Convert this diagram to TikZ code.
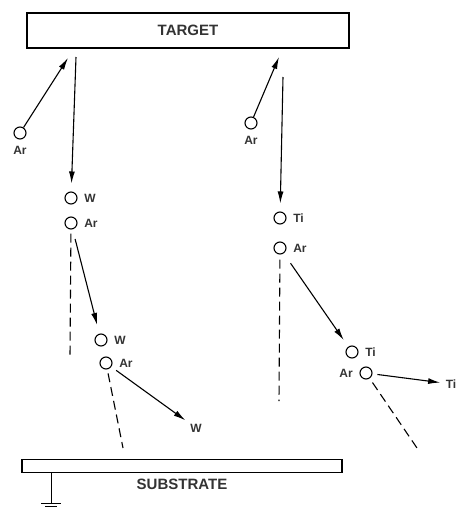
\documentclass[tikz,border=0pt]{standalone}
\usepackage{fontspec}
\setmainfont{Liberation Sans}
\usetikzlibrary{arrows.meta}

\begin{document}
\begin{tikzpicture}[
    x=1pt, y=-1pt,
    label distance=5pt,
    atom/.style={
        draw,
        circle,
        minimum size=12pt,
        inner sep=0pt,
        line width=1.1pt
    },
    tag/.style={
        font=\fontsize{12}{13}\selectfont\bfseries,
        text=black!80,
        inner sep=1.5pt
    },
    plate/.style={
        draw,
        line width=1.4pt,
        inner sep=0pt,
        font=\fontsize{15}{16}\selectfont\bfseries,
        text=black!80
    },
    hit/.style={
        line width=1.1pt,
        -{Latex[length=12pt,width=6pt]}
    },
    trail/.style={
        line width=1.1pt,
        dash pattern=on 9pt off 5pt
    },
    ]
    \useasboundingbox (0,0) rectangle (458,509);

    % electrodes
    \node[plate, minimum width=322pt, minimum height=35pt] (target) at (188,30.5) {TARGET};
    \node[plate, minimum width=320pt, minimum height=13pt, label distance=7pt,
        label={[plate, draw=none]below:SUBSTRATE}] (substrate) at (182,466) {};

    % ground
    \coordinate (earth) at (51,503);
    \draw[line width=1pt] (substrate.south -| earth) -- (earth);
    \draw[line width=1pt] ([shift={(-10,0)}]earth) -- ([shift={(10,0)}]earth)
        ([shift={(-6,3)}]earth) -- ([shift={(6,3)}]earth)
        ([shift={(-2,6)}]earth) -- ([shift={(2,6)}]earth);

    % tungsten side
    \node[atom, label={[tag]below:Ar}] (ar1) at (20,133) {};
    \node[atom, label={[tag]right:W}] (w1) at (71,198) {};
    \node[atom, label={[tag]right:Ar}] (ar2) at (71,223) {};
    \node[atom, label={[tag]right:W}] (w2) at (101,340) {};
    \node[atom, label={[tag]right:Ar}] (ar3) at (106,363) {};
    \node[tag] (w3) at (196,428) {W};
    \coordinate (hitL) at (68,58);
    \coordinate (outL) at (76,57);
    \coordinate (trailL) at (70,357);
    \coordinate (trailL2) at (123,448);

    \draw[hit] (ar1) -- (hitL);
    \draw[hit, shorten >=8pt] (outL) -- (w1);
    \draw[hit, shorten <=10pt, shorten >=9pt] (ar2) -- (w2);
    \draw[trail, shorten <=4pt] (ar2) -- (trailL);
    \draw[hit, shorten <=6pt, shorten >=4pt] (ar3) -- (w3);
    \draw[trail, shorten <=4pt] (ar3) -- (trailL2);

    % titanium side
    \node[atom, label={[tag]below:Ar}] (ar4) at (251,123) {};
    \node[atom, label={[tag]right:Ti}] (ti1) at (280,218) {};
    \node[atom, label={[tag]right:Ar}] (ar5) at (280,248) {};
    \node[atom, label={[tag]right:Ti}] (ti2) at (352,352) {};
    \node[atom, label={[tag]left:Ar}] (ar6) at (366,373) {};
    \node[tag] (ti3) at (451,384) {Ti};
    \coordinate (hitR) at (279,57);
    \coordinate (outR) at (283,77);
    \coordinate (trailR) at (279,401);
    \coordinate (trailR2) at (417,448);

    \draw[hit] (ar4) -- (hitR);
    \draw[hit, shorten >=8pt] (outR) -- (ti1);
    \draw[hit, shorten <=12pt, shorten >=8pt] (ar5) -- (ti2);
    \draw[trail, shorten <=5pt] (ar5) -- (trailR);
    \draw[hit, shorten <=5pt, shorten >=4pt] (ar6) -- (ti3);
    \draw[trail, shorten <=5pt] (ar6) -- (trailR2);
\end{tikzpicture}
\end{document}
